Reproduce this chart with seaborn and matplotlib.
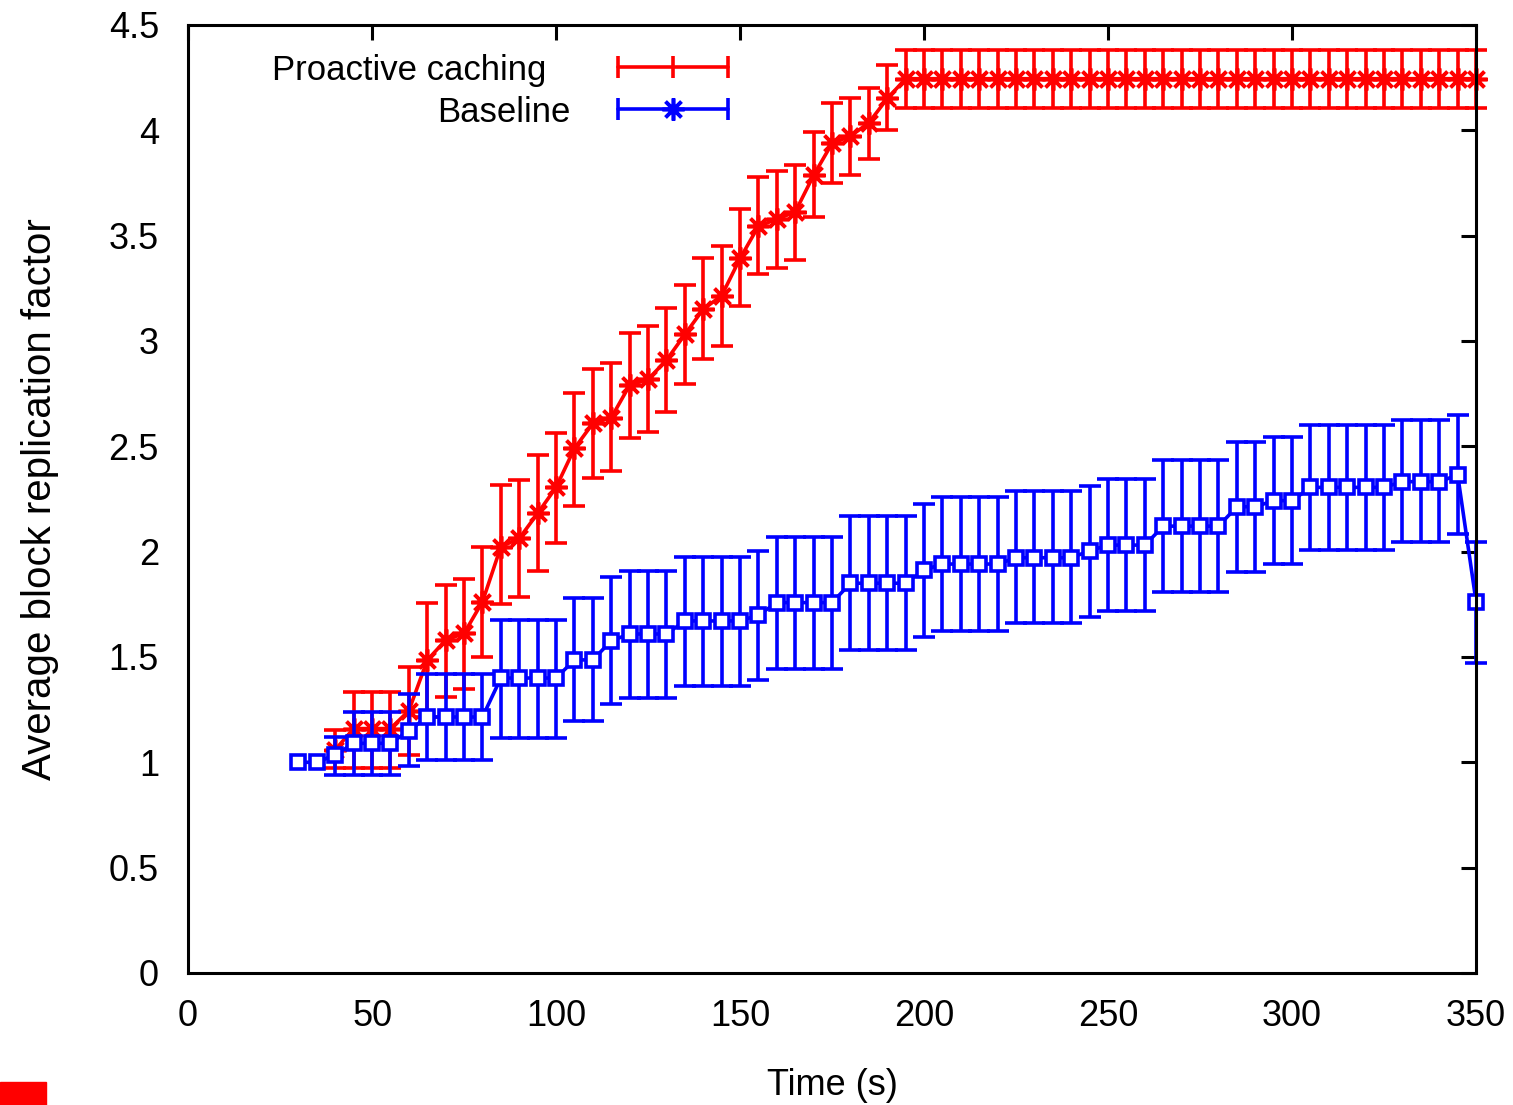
import pandas as pd
import seaborn as sns
import matplotlib.pyplot as plt
from matplotlib.patches import Rectangle
from matplotlib.ticker import FuncFormatter

TIME = [30, 35, 40, 45, 50, 55, 60, 65, 70, 75, 80, 85, 90, 95, 100,
        105, 110, 115, 120, 125, 130, 135, 140, 145, 150, 155, 160, 165,
        170, 175, 180, 185, 190, 195, 200, 205, 210, 215, 220, 225, 230,
        235, 240, 245, 250, 255, 260, 265, 270, 275, 280, 285, 290, 295,
        300, 305, 310, 315, 320, 325, 330, 335, 340, 345, 350]

# first two samples of the proactive run are not visible (hidden / absent)
PROACTIVE_MEAN = [None, None, 1.06, 1.16, 1.16, 1.16, 1.245, 1.485, 1.58, 1.612,
                  1.762, 2.023, 2.063, 2.182, 2.305, 2.49, 2.609, 2.636, 2.79,
                  2.818, 2.909, 3.031, 3.151, 3.215, 3.392, 3.545, 3.578, 3.613,
                  3.787, 3.938, 3.972, 4.036, 4.151] + [4.245] * 32
PROACTIVE_LOW = [None, None, 0.975, 0.975, 0.975, 0.975, 1.035, 1.215, 1.312, 1.346,
                 1.501, 1.751, 1.786, 1.908, 2.042, 2.218, 2.348, 2.382, 2.538,
                 2.569, 2.664, 2.795, 2.914, 2.978, 3.166, 3.316, 3.347, 3.384,
                 3.59, 3.751, 3.787, 3.866, 4.001] + [4.108] * 32
PROACTIVE_HIGH = [None, None, 1.153, 1.332, 1.332, 1.332, 1.454, 1.755, 1.84, 1.868,
                  2.023, 2.316, 2.34, 2.458, 2.564, 2.751, 2.865, 2.894, 3.039,
                  3.071, 3.158, 3.268, 3.392, 3.45, 3.626, 3.776, 3.808, 3.835,
                  3.993, 4.131, 4.151, 4.203, 4.309] + [4.381] * 32

BASELINE_MEAN = [1.0, 1.0, 1.035, 1.09, 1.09, 1.09, 1.15, 1.215, 1.215, 1.215,
                 1.215, 1.40, 1.40, 1.40, 1.40, 1.486, 1.486, 1.577, 1.609, 1.609,
                 1.609, 1.671, 1.671, 1.671, 1.671, 1.699, 1.758, 1.758, 1.758,
                 1.758, 1.85, 1.85, 1.85, 1.85, 1.913, 1.941, 1.941, 1.941, 1.941,
                 1.971, 1.971, 1.971, 1.971, 2.004, 2.031, 2.031, 2.031, 2.121,
                 2.121, 2.121, 2.121, 2.213, 2.213, 2.242, 2.242, 2.305, 2.305,
                 2.305, 2.305, 2.305, 2.332, 2.332, 2.332, 2.364, 1.762]
BASELINE_LOW = [1.0, 1.0, 0.94, 0.94, 0.94, 0.94, 0.982, 1.011, 1.011, 1.011,
                1.011, 1.115, 1.115, 1.115, 1.115, 1.194, 1.194, 1.277, 1.304,
                1.304, 1.304, 1.36, 1.36, 1.36, 1.36, 1.39, 1.443, 1.443, 1.443,
                1.443, 1.533, 1.533, 1.533, 1.533, 1.596, 1.623, 1.623, 1.623,
                1.623, 1.66, 1.66, 1.66, 1.66, 1.691, 1.72, 1.72, 1.72, 1.81,
                1.81, 1.81, 1.81, 1.905, 1.905, 1.941, 1.941, 2.008, 2.008, 2.008,
                2.008, 2.008, 2.044, 2.044, 2.044, 2.082, 1.47]
BASELINE_HIGH = [1.0, 1.0, 1.12, 1.24, 1.24, 1.24, 1.324, 1.418, 1.418, 1.418,
                 1.418, 1.675, 1.675, 1.675, 1.675, 1.778, 1.778, 1.878, 1.91,
                 1.91, 1.91, 1.976, 1.976, 1.976, 1.976, 2.004, 2.07, 2.07, 2.07,
                 2.07, 2.169, 2.169, 2.169, 2.169, 2.224, 2.258, 2.258, 2.258,
                 2.258, 2.288, 2.288, 2.288, 2.288, 2.311, 2.343, 2.343, 2.343,
                 2.435, 2.435, 2.435, 2.435, 2.52, 2.52, 2.546, 2.546, 2.60, 2.60,
                 2.60, 2.60, 2.60, 2.625, 2.625, 2.625, 2.648, 2.047]

X_TICKS = [0, 50, 100, 150, 200, 250, 300, 350]
Y_TICKS = [0, 0.5, 1, 1.5, 2, 2.5, 3, 3.5, 4, 4.5]

RED = "#ff0000"
BLUE = "#0000ff"
ASTERISK = (8, 2, 0)
LW = 2.6


def build_frame(mean, low, high):
    df = pd.DataFrame({"time": TIME, "value": mean, "low": low, "high": high},
                      dtype=float).dropna()
    df["err_lo"] = df["value"] - df["low"]
    df["err_hi"] = df["high"] - df["value"]
    return df


def draw_series(ax, df, color, marker, mfc, ms, z):
    bars = df[(df["err_lo"] > 0) | (df["err_hi"] > 0)]
    ax.errorbar(bars["time"], bars["value"],
                yerr=[bars["err_lo"], bars["err_hi"]],
                fmt="none", ecolor=color, elinewidth=LW, capsize=8,
                capthick=LW, clip_on=False, zorder=z)
    sns.lineplot(data=df, x="time", y="value", ax=ax, color=color,
                 linewidth=LW, marker=marker, markersize=ms,
                 markerfacecolor=mfc, markeredgecolor=color,
                 markeredgewidth=LW, clip_on=False, zorder=z + 0.5)


def main():
    sns.set_style("white")
    plt.rcParams["font.family"] = ["Liberation Sans", "DejaVu Sans"]
    plt.rcParams["text.color"] = "black"
    plt.rcParams["axes.labelcolor"] = "black"

    fig = plt.figure(figsize=(15.13, 11.05), dpi=100)
    ax = fig.add_axes([0.1243, 0.1195, 0.8513, 0.8579])

    proactive = build_frame(PROACTIVE_MEAN, PROACTIVE_LOW, PROACTIVE_HIGH)
    baseline = build_frame(BASELINE_MEAN, BASELINE_LOW, BASELINE_HIGH)

    draw_series(ax, proactive, RED, ASTERISK, RED, 16, 2)
    draw_series(ax, baseline, BLUE, "s", "white", 10, 4)

    ax.set_xlim(0, 350)
    ax.set_ylim(0, 4.5)
    ax.set_xticks(X_TICKS)
    ax.set_yticks(Y_TICKS)
    ax.yaxis.set_major_formatter(FuncFormatter(lambda v, p: f"{v:g}"))
    ax.tick_params(direction="in", length=11, width=2.2, top=True, right=True,
                   labelsize=26, colors="black")
    ax.tick_params(axis="y", pad=21)
    ax.tick_params(axis="x", pad=19)
    for sp in ax.spines.values():
        sp.set_linewidth(2.2)
        sp.set_color("black")
        sp.set_zorder(5)

    ax.set_xlabel("Time (s)", fontsize=26, labelpad=24)
    ax.set_ylabel("Average block replication factor", fontsize=29, labelpad=36)

    # legend, gnuplot style: text on the left, sample on the right
    tr = ax.transAxes
    ax.text(0.278, 0.9525, "Proactive caching", transform=tr, ha="right",
            va="center", fontsize=25)
    ax.text(0.2966, 0.908, "Baseline", transform=tr, ha="right",
            va="center", fontsize=25)
    for yy, col, mid in [(0.9557, RED, "|"), (0.9114, BLUE, ASTERISK)]:
        ax.plot([0.3339, 0.4193], [yy, yy], transform=tr, color=col, lw=LW,
                clip_on=False)
        ax.plot([0.3339, 0.4193], [yy, yy], transform=tr, color=col, ls="none",
                marker="|", ms=16, mew=LW, clip_on=False)
        ax.plot([0.3766], [yy], transform=tr, color=col, ls="none",
                marker=mid, ms=16, mew=LW, clip_on=False)

    fig.patches.append(Rectangle((0, 0), 46 / 1513, 23 / 1105,
                                 transform=fig.transFigure, color=RED))

    fig.savefig("out.png", dpi=100)
    plt.close(fig)


if __name__ == "__main__":
    main()
